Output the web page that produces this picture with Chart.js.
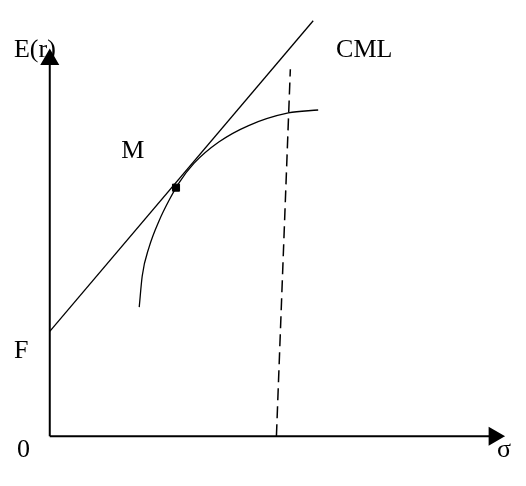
<!DOCTYPE html>
<html><head><meta charset="utf-8">
<script src="https://cdn.jsdelivr.net/npm/chart.js@4"></script>
<style>html,body{margin:0;padding:0;background:#fff}#w{width:526px;height:486px}</style>
</head><body><div id="w"><canvas id="c"></canvas></div>
<script>
// coordinates: x = sigma, y = E(r) (diagram units)
const axisX = [{x:0,y:0},{x:447,y:0}];
const axisY = [{x:0,y:0},{x:0,y:388}];
const cml = [{x:0,y:108},{x:265,y:428}];
const frontier = [{x:90,y:133},{x:93,y:165},{x:100,y:195},{x:110,y:222},{x:120,y:243},{x:130,y:261},{x:145,y:281},{x:170,y:303},{x:200,y:320},{x:240,y:333},{x:270,y:336}];
const capLine = [{x:228,y:0},{x:242,y:378}];
const pointM = [{x:127,y:256}];
const labels = [
 {t:"E(r)",x:-36,y:398},{t:"CML",x:288,y:398},{t:"M",x:72,y:294},
 {t:"F",x:-36,y:88},{t:"0",x:-33,y:-14},{t:"σ",x:450,y:-14}
];
const textPlugin={id:'txt',afterDatasetsDraw(ch){const c=ch.ctx,xs=ch.scales.x,ys=ch.scales.y;c.save();c.fillStyle='#000';c.font='26px "Liberation Serif"';c.textBaseline='middle';labels.forEach(l=>c.fillText(l.t,xs.getPixelForValue(l.x),ys.getPixelForValue(l.y)));c.restore();}};
const base={showLine:true,borderColor:'#000',pointRadius:0,fill:false};
new Chart(document.getElementById('c'),{type:'scatter',
data:{datasets:[
 {...base,data:axisX,borderWidth:2,pointRadius:[0,9],pointStyle:'triangle',rotation:90,pointBackgroundColor:'#000'},
 {...base,data:axisY,borderWidth:2,pointRadius:[0,9],pointStyle:'triangle',pointBackgroundColor:'#000'},
 {...base,data:cml,borderWidth:1.3},
 {...base,data:frontier,borderWidth:1.3,cubicInterpolationMode:'monotone'},
 {...base,data:capLine,borderWidth:1.5,borderDash:[12,6]},
 {data:pointM,pointStyle:'rect',pointRadius:5,backgroundColor:'#000',borderColor:'#000'}
]},
options:{responsive:true,maintainAspectRatio:false,animation:false,layout:{padding:0},
plugins:{legend:{display:false},tooltip:{enabled:false}},
scales:{x:{type:'linear',display:false,min:-39,max:468},y:{type:'linear',display:false,min:-40,max:438}}},
plugins:[textPlugin]});
</script></body></html>
